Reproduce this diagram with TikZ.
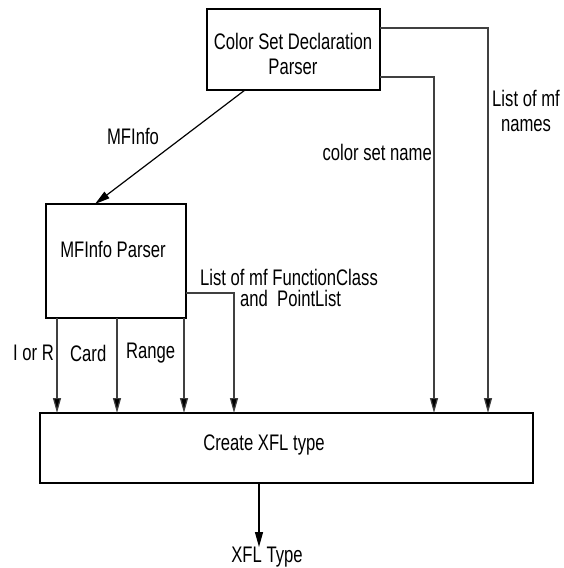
\documentclass[tikz,border=0pt]{standalone}
\usepackage{fontspec}
\setmainfont{Liberation Sans}[FakeStretch=0.74]
\usetikzlibrary{arrows.meta}
\begin{document}
\begin{tikzpicture}[x=1pt,y=-1pt,
  box/.style={draw=black,line width=1.5pt,rectangle,inner sep=0pt},
  lbl/.style={inner sep=0pt,font=\fontsize{22.5}{25}\selectfont},
  conn/.style={draw=black!75,line width=1.2pt},
  arr/.style={conn,-{Triangle[length=15pt,width=8pt,fill=black]}}]
\useasboundingbox (0,0) rectangle (563,568);
% boxes
\node[box,minimum width=173pt,minimum height=81pt] (csd) at (293.5,49.5) {};
\node[box,minimum width=140pt,minimum height=114pt] (mfp) at (116,261) {};
\node[box,minimum width=493pt,minimum height=70pt] (xfl) at (286.5,448) {};
% box texts
\node[lbl,align=center] (csdt) at (293,54) {Color Set Declaration\\Parser};
\node[lbl] (mfpt) at (113,249) {MFInfo Parser};
\node[lbl] (xflt) at (264,445) {Create XFL type};
% coordinates
\coordinate (c1) at (380,28);
\coordinate (c2) at (380,77);
\coordinate (e1) at (488,413);
\coordinate (e2) at (434,413);
\coordinate (d1) at (245,90);
\coordinate (d2) at (95,204);
\coordinate (m0) at (186,293);
\coordinate (em) at (234,413);
\coordinate (b1) at (57,318);
\coordinate (b2) at (117,318);
\coordinate (b3) at (184,318);
\coordinate (f1) at (57,413);
\coordinate (f2) at (117,413);
\coordinate (f3) at (184,413);
\coordinate (o1) at (259,483);
\coordinate (o2) at (259,547);
% connectors
\draw[arr] (c1) -| (e1);
\draw[arr] (c2) -| (e2);
\draw[arr,draw=black] (d1) -- (d2);
\draw[arr] (m0) -| (em);
\draw[arr] (b1) -- (f1);
\draw[arr] (b2) -- (f2);
\draw[arr] (b3) -- (f3);
\draw[arr,draw=black] (o1) -- (o2);
% labels
\node[lbl,align=center] (lmf) at (526,111) {List of mf\\names};
\node[lbl,anchor=east] (csn) at (432,152) {color set name};
\node[lbl] (mfi) at (133,136) {MFInfo};
\node[lbl,anchor=west] (lfc) at (200,277) {List of mf FunctionClass};
\node[lbl,anchor=west] (pl) at (240,298) {and\ \ PointList};
\node[lbl,anchor=east] (ior) at (54,353) {I or R};
\node[lbl,anchor=west] (card) at (70,353) {Card};
\node[lbl,anchor=west] (rng) at (126,353) {Range};
\node[lbl] (xt) at (267,557) {XFL Type};
\end{tikzpicture}
\end{document}
